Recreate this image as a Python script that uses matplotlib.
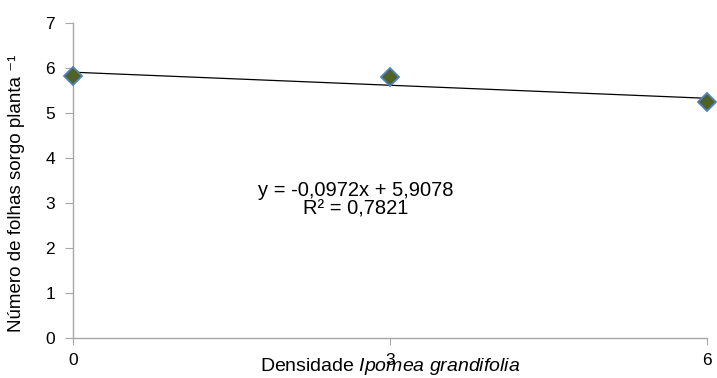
import matplotlib
matplotlib.use("Agg")
import matplotlib.pyplot as plt
import numpy as np

# dados
densidade = [0, 3, 6]
folhas = [5.82, 5.79, 5.24]
xticks = [0, 3, 6]
yticks = [0, 1, 2, 3, 4, 5, 6, 7]

plt.rcParams['font.family'] = ['Liberation Sans', 'DejaVu Sans']
plt.rcParams['mathtext.fontset'] = 'custom'
plt.rcParams['mathtext.rm'] = 'Liberation Sans'
plt.rcParams['mathtext.it'] = 'Liberation Sans:italic'

fig = plt.figure(figsize=(7.17, 3.78), dpi=100)
ax = fig.add_axes([73/717, 1 - 338/378, 634/717, 315/378])

# linha de tendencia
coef = np.polyfit(densidade, folhas, 1)
xl = np.array([0, 6])
ax.plot(xl, np.polyval(coef, xl), color="black", lw=0.9, zorder=2)

ax.plot(densidade, folhas, linestyle="none", marker="D", markersize=9,
        markerfacecolor="#4f6228", markeredgecolor="#4f81bd", markeredgewidth=1.3,
        zorder=3, clip_on=False)

ax.text(2.68, 3.28, "y = -0,0972x + 5,9078", ha="center", va="center", fontsize=14.5)
ax.text(2.68, 2.86, "R² = 0,7821", ha="center", va="center", fontsize=14.5)

ax.set_xlim(0, 6)
ax.set_ylim(0, 7)
ax.set_xticks(xticks)
ax.set_yticks(yticks)

for s in ["top", "right"]:
    ax.spines[s].set_visible(False)
for s in ["left", "bottom"]:
    ax.spines[s].set_color("#a6a6a6")
    ax.spines[s].set_linewidth(1.0)

ax.tick_params(axis="y", direction="out", length=6, color="#a6a6a6", labelsize=12.5, pad=7)
ax.tick_params(axis="x", direction="out", length=5, color="#a6a6a6", labelsize=12.5, pad=6)

ax.set_ylabel("Número de folhas sorgo planta ⁻¹", fontsize=13.5)
ax.yaxis.set_label_coords(-0.076, 0.46)
ax.set_xlabel("Densidade $\\it{Ipomea\\ grandifolia}$", fontsize=14, labelpad=-9)

fig.savefig("out.png", dpi=100)
